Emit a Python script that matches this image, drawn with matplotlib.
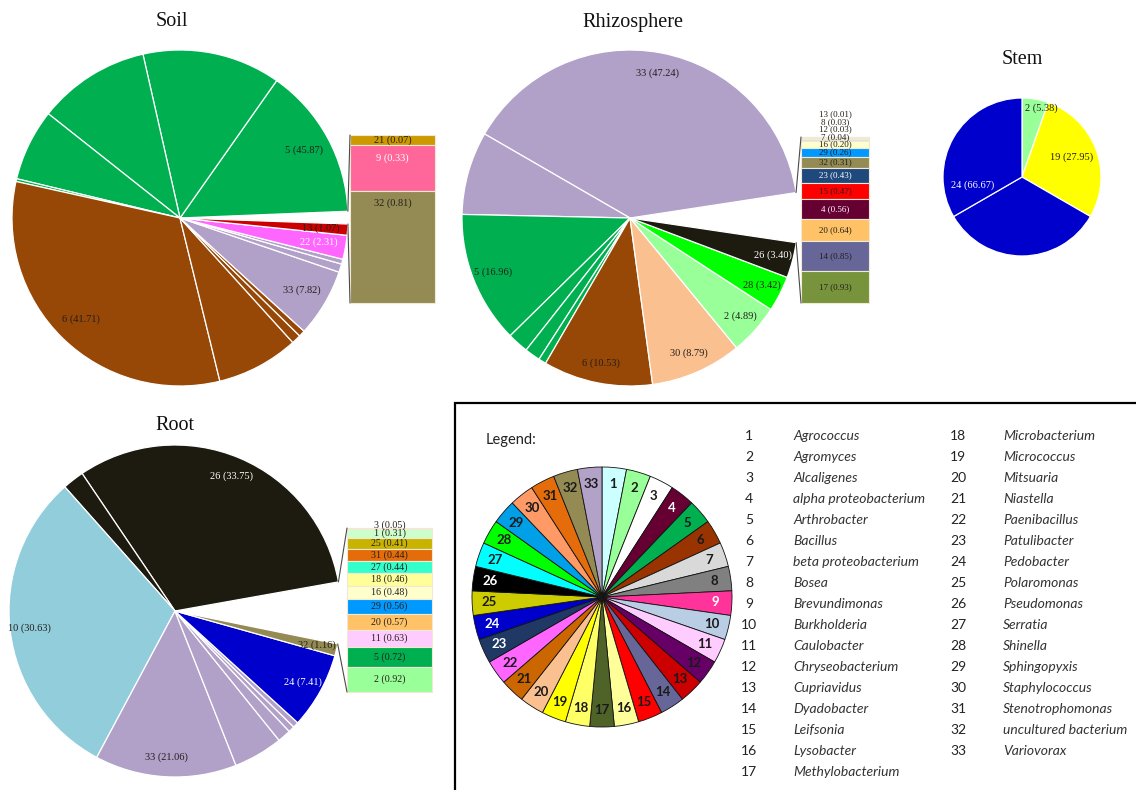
import matplotlib
matplotlib.use("Agg")
import matplotlib.pyplot as plt
from matplotlib.patches import ConnectionPatch, Rectangle
import numpy as np

W, H = 1136, 790

# genus names, numbered 1..33 in the legend
genera = [
    "Agrococcus", "Agromyces", "Alcaligenes", "alpha proteobacterium", "Arthrobacter",
    "Bacillus", "beta proteobacterium", "Bosea", "Brevundimonas", "Burkholderia",
    "Caulobacter", "Chryseobacterium", "Cupriavidus", "Dyadobacter", "Leifsonia",
    "Lysobacter", "Methylobacterium", "Microbacterium", "Micrococcus", "Mitsuaria",
    "Niastella", "Paenibacillus", "Patulibacter", "Pedobacter", "Polaromonas",
    "Pseudomonas", "Serratia", "Shinella", "Sphingopyxis", "Staphylococcus",
    "Stenotrophomonas", "uncultured bacterium", "Variovorax",
]

# Soil: main slices (genus id, % , sub-slices split by white lines) + bar of small ones
soil_ids = [5, 6, 33, 22, 13]
soil_pct = [45.87, 41.71, 7.82, 2.31, 1.07]
soil_parts = [[14.6, 13.3, 10.8, 6.9, 0.27], [32.3, 7.9, 0.9, 0.61], [6.55, 0.8, 0.47], [2.31], [1.07]]
soil_bar_ids = [21, 9, 32]
soil_bar_pct = [0.07, 0.33, 0.81]

# Rhizosphere
rhizo_ids = [33, 5, 6, 30, 2, 28, 26]
rhizo_pct = [47.24, 16.96, 10.53, 8.79, 4.89, 3.42, 3.40]
rhizo_parts = [[39.24, 8.0], [12.7, 2.03, 1.5, 0.73], [10.53], [8.79], [4.89], [3.42], [3.40]]
rhizo_bar_ids = [13, 8, 12, 7, 16, 29, 32, 23, 15, 4, 20, 14, 17]
rhizo_bar_pct = [0.01, 0.03, 0.03, 0.04, 0.20, 0.26, 0.31, 0.43, 0.47, 0.56, 0.64, 0.85, 0.93]

# Stem
stem_ids = [2, 19, 24]
stem_pct = [5.38, 27.95, 66.67]
stem_parts = [[5.38], [27.95], [33.33, 33.34]]

# Root
root_ids = [26, 10, 33, 24, 32]
root_pct = [33.75, 30.63, 21.06, 7.41, 1.16]
root_parts = [[31.65, 2.10], [30.63], [13.8, 4.8, 1.3, 0.6, 0.56], [7.41], [1.16]]
root_bar_ids = [3, 1, 25, 31, 27, 18, 16, 29, 20, 11, 5, 2]
root_bar_pct = [0.05, 0.31, 0.41, 0.44, 0.44, 0.46, 0.48, 0.56, 0.57, 0.63, 0.72, 0.92]

# colours used in the data charts
DATA_COLOR = {
    1: "#CCFFCC", 2: "#99FF99", 3: "#FFFFFF", 4: "#660033", 5: "#00B050", 6: "#974706",
    7: "#E0E0E0", 8: "#808080", 9: "#FF6699", 10: "#92CDDC", 11: "#FFCCFF", 12: "#660066",
    13: "#CC0000", 14: "#666699", 15: "#FF0000", 16: "#FFFFCC", 17: "#77933C", 18: "#FFFF99",
    19: "#FFFF00", 20: "#FFC266", 21: "#CC9900", 22: "#FF66FF", 23: "#1F497D", 24: "#0000CC",
    25: "#C8B400", 26: "#1D1B10", 27: "#33FFCC", 28: "#00FF00", 29: "#0099FF", 30: "#FAC090",
    31: "#E46C0A", 32: "#948A54", 33: "#B1A0C7",
}
# colours of the legend wheel
LEGEND_COLORS = [
    "#CCFFFF", "#99FF99", "#FFFFFF", "#660033", "#00B050", "#993300", "#D9D9D9", "#808080",
    "#FF3399", "#B9CDE5", "#FFCCFF", "#660066", "#CC0000", "#666699", "#FF0000", "#FFFF99",
    "#4F6228", "#FFFF66", "#FFFF00", "#FAC090", "#CC6600", "#FF66FF", "#1F3864", "#0000CC",
    "#CCCC00", "#000000", "#00FFFF", "#00FF00", "#00A0E8", "#FF9966", "#E46C0A", "#948A54",
    "#B3A2C7",
]

SERIF = "Liberation Serif"
SANS = "Lato"
DARK = "#231f1a"

fig = plt.figure(figsize=(W / 100, H / 100), dpi=100)


def px_rect(x, y, w, h):
    return [x / W, 1 - (y + h) / H, w / W, h / H]


def draw_pie(cx, cy, r, ids, pct, parts, start, gap=0.0, clockwise=False,
             dist=0.87, white_ids=(), moved=None):
    ax = fig.add_axes(px_rect(cx - r, cy - r, 2 * r, 2 * r))
    vals, cols, owner = [], [], []
    for gid, sub in zip(ids, parts):
        vals += sub
        cols += [DATA_COLOR[gid]] * len(sub)
        owner += [gid] * len(sub)
    if gap:
        vals.append(gap)
        cols.append("none")
        owner.append(None)
    wedges, _ = ax.pie(vals, colors=cols, startangle=start, counterclock=not clockwise,
                       wedgeprops=dict(edgecolor="white", linewidth=0.9))
    if gap:
        wedges[-1].set_edgecolor("none")
    for w in wedges:
        w.set_clip_on(False)
    ax.set_xlim(-1, 1)
    ax.set_ylim(-1, 1)
    ax.set_aspect("equal")
    ax.axis("off")
    moved = moved or {}
    for gid, p in zip(ids, pct):
        w = wedges[owner.index(gid)]
        ang, d = moved.get(gid, ((w.theta1 + w.theta2) / 2, dist))
        a = np.deg2rad(ang)
        ax.text(d * np.cos(a), d * np.sin(a), f"{gid} ({p:.2f})", ha="center", va="center",
                fontsize=7.5, family=SERIF,
                color="white" if gid in white_ids else DARK)
    return ax, wedges


def draw_bar(x, y, w, h, ids, pct, fontsize=7, spacing=7.5, cap=None, white_ids=()):
    ax = fig.add_axes(px_rect(x, y, w, h))
    pct = np.array(pct)
    total = pct.sum()
    bottoms = np.concatenate([[0], np.cumsum(pct)[:-1]])
    bars = ax.bar(np.zeros(len(pct)), pct, bottom=bottoms, width=1,
                  color=[DATA_COLOR[g] for g in ids], edgecolor="#efe9d6", linewidth=0.8)
    for b in bars:
        b.set_clip_on(False)
    ax.set_xlim(-0.5, 0.5)
    ax.set_ylim(total, 0)
    ax.axis("off")
    scale = h / total  # pixels per percent
    off = pct / 2
    if cap is not None:
        off = np.minimum(off, cap / scale)
    ys = bottoms + off
    # push labels of thin segments upwards so they don't overlap
    for i in range(len(ys) - 2, -1, -1):
        ys[i] = min(ys[i], ys[i + 1] - spacing / scale)
    for g, p, yy in zip(ids, pct, ys):
        ax.text(0, yy, f"{g} ({p:.2f})", ha="center", va="center", fontsize=fontsize,
                family=SERIF, color="white" if g in white_ids else DARK)
    return ax


def connect(pie_ax, gap_wedge, bar_ax):
    for ang, corner in ((gap_wedge.theta2, (0, 1)), (gap_wedge.theta1, (0, 0))):
        a = np.deg2rad(ang)
        con = ConnectionPatch(xyA=(np.cos(a), np.sin(a)), coordsA=pie_ax.transData,
                              xyB=corner, coordsB=bar_ax.transAxes,
                              color="#4a4a4a", lw=0.8)
        fig.add_artist(con)


def title(x, y, s):
    fig.text(x / W, 1 - y / H, s, ha="center", va="center", fontsize=14.5,
             family=SERIF, color="#111111")


# ---- Soil ----
title(172, 22, "Soil")
ax, wd = draw_pie(180, 218, 168, soil_ids, soil_pct, soil_parts, start=2.3,
                  gap=sum(soil_bar_pct), dist=0.84, white_ids=(22,))
bax = draw_bar(350, 135, 85, 168, soil_bar_ids, soil_bar_pct, fontsize=7.5,
               cap=13, white_ids=(9,))
connect(ax, wd[-1], bax)

# ---- Rhizosphere ----
title(633, 23, "Rhizosphere")
ax, wd = draw_pie(630, 218, 168, rhizo_ids, rhizo_pct, rhizo_parts, start=8.7,
                  gap=sum(rhizo_bar_pct), dist=0.88, white_ids=(26,))
bax = draw_bar(801, 137, 68, 166, rhizo_bar_ids, rhizo_bar_pct, fontsize=6.5,
               spacing=7.5, white_ids=(4, 23))
connect(ax, wd[-1], bax)

# ---- Stem ----
title(1022, 60, "Stem")
draw_pie(1022, 177, 79, stem_ids, stem_pct, stem_parts, start=90, clockwise=True,
         dist=0.88, white_ids=(24,),
         moved={2: (74, 0.9), 19: (21.7, 0.67), 24: (189, 0.63)})

# ---- Root ----
title(175, 425, "Root")
ax, wd = draw_pie(175, 611, 166, root_ids, root_pct, root_parts, start=10.1,
                  gap=sum(root_bar_pct), dist=0.88, white_ids=(26, 24))
bax = draw_bar(347, 528, 85, 164, root_bar_ids, root_bar_pct, fontsize=7.2, spacing=8.5)
connect(ax, wd[-1], bax)

# ---- Legend box ----
fig.add_artist(Rectangle((455 / W, -0.02), 1.0, (790 - 403) / H + 0.02,
                         transform=fig.transFigure, fill=False, edgecolor="black", lw=1.6))
fig.text(486 / W, 1 - 440 / H, "Legend:", ha="left", va="center", fontsize=10.5,
         family=SANS, color="#222222")

lax = fig.add_axes(px_rect(602 - 130, 597 - 130, 260, 260))
nums = [str(i + 1) for i in range(len(genera))]
lw, lt = lax.pie(np.ones(len(genera)), colors=LEGEND_COLORS, startangle=90,
                 counterclock=False, labels=nums, labeldistance=0.87,
                 wedgeprops=dict(edgecolor="#111111", linewidth=0.6),
                 textprops=dict(fontsize=9.5, family=SANS, fontweight="bold",
                                ha="center", va="center"))
for t in lt:
    t.set_color("white" if t.get_text() in ("4", "9", "23", "24", "26") else "#1a1a1a")
lax.set_xlim(-1, 1)
lax.set_ylim(-1, 1)
lax.set_aspect("equal")
lax.axis("off")

for i, name in enumerate(genera):
    col, row = (0, i) if i < 17 else (1, i - 17)
    yy = 1 - (436 + 21 * row) / H
    nx, tx = (749, 793) if col == 0 else (958, 1003)
    fig.text(nx / W, yy, str(i + 1), ha="center", va="center", fontsize=10,
             family=SANS, color="#222222")
    fig.text(tx / W, yy, name, ha="left", va="center", fontsize=10,
             family=SANS, style="italic", color="#333333")

fig.savefig("out.png", dpi=100)
